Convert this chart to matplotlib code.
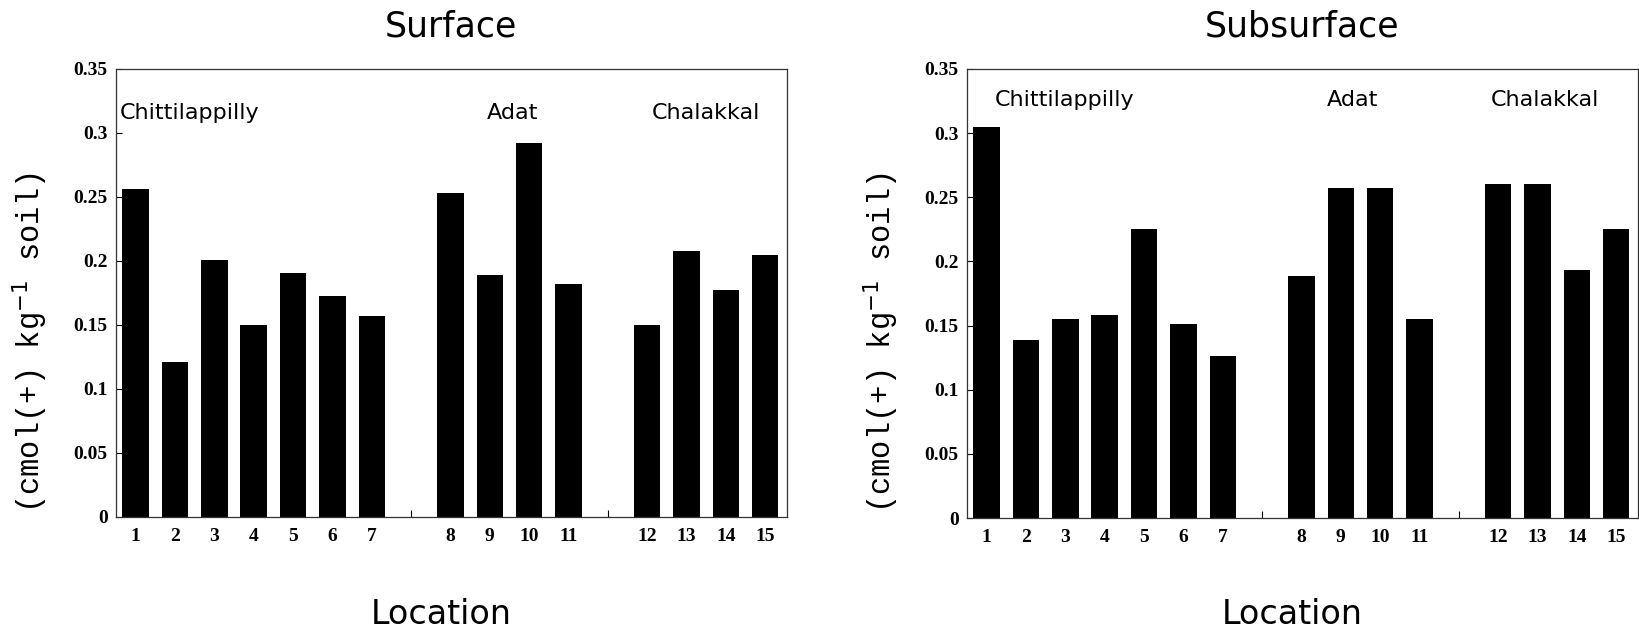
import numpy as np
import matplotlib
matplotlib.use("Agg")
import matplotlib.pyplot as plt

# --- data ---
locations = [str(i) for i in range(1, 16)]
surface = [0.256, 0.121, 0.201, 0.150, 0.191, 0.173, 0.157,
           0.253, 0.189, 0.292, 0.182,
           0.150, 0.208, 0.177, 0.205]
subsurface = [0.305, 0.139, 0.155, 0.158, 0.225, 0.151, 0.126,
              0.189, 0.257, 0.257, 0.155,
              0.260, 0.260, 0.193, 0.225]
groups = ['Chittilappilly', 'Adat', 'Chalakkal']
group_sizes = [7, 4, 4]
panel_titles = ['Surface', 'Subsurface']
yticks = [0, 0.05, 0.1, 0.15, 0.2, 0.25, 0.3, 0.35]
ytick_labels = ['0', '0.05', '0.1', '0.15', '0.2', '0.25', '0.3', '0.35']

# bar positions: one empty slot between groups
pos = []
start = 0
for n in group_sizes:
    pos += list(range(start, start + n))
    start += n + 1
pos = np.array(pos)
gap_pos = [7, 12]

fig = plt.figure(figsize=(16.4, 6.37), dpi=100)
ax_l = fig.add_axes([0.0707, 0.1884, 0.4091, 0.7033])
ax_r = fig.add_axes([0.5896, 0.1868, 0.4091, 0.7049])

label_font = dict(family='Liberation Serif', weight='bold', size=14)
group_y = [0.311, 0.321]
group_x = [[-0.4, 9.57, 14.5], [0.2, 9.3, 14.2]]
group_ha = [['left', 'center', 'center'], ['left', 'center', 'center']]

for k, (ax, vals, title) in enumerate(zip([ax_l, ax_r], [surface, subsurface], panel_titles)):
    ax.bar(pos, vals, width=0.67, color='black')
    ax.set_xlim(-0.5, 16.55)
    ax.set_ylim(0, 0.35)
    ax.set_yticks(yticks)
    ax.set_yticklabels(ytick_labels, fontdict=label_font)
    ax.set_xticks(pos)
    ax.set_xticklabels(locations, fontdict=label_font)
    ax.tick_params(axis='x', length=0, pad=8)
    ax.tick_params(axis='y', direction='in', length=4, width=0.8, pad=6)
    ax.set_xticks(gap_pos, minor=True)
    ax.tick_params(axis='x', which='minor', direction='in', length=5, width=0.8)
    for s in ax.spines.values():
        s.set_linewidth(0.9)
        s.set_color('#333333')
    for g, gx, ha in zip(groups, group_x[k], group_ha[k]):
        ax.text(gx, group_y[k], g, ha=ha, va='baseline', fontsize=16,
                family='DejaVu Sans')
    # title, x label, y label
    bb = ax.get_position()
    cx = (bb.x0 + bb.x1) / 2
    fig.text(cx, 0.958, title, ha='center', va='center', fontsize=25,
             family='DejaVu Sans')
    fig.text(cx - 0.006, 0.035, 'Location', ha='center', va='center', fontsize=24,
             family='DejaVu Sans')
    fig.text(bb.x0 - 0.052, 0.462, '(cmol(+) kg$^{-1}$ soil)', rotation=90,
             ha='center', va='center', fontsize=22, family='Liberation Mono')

fig.savefig('out.png', dpi=100)
